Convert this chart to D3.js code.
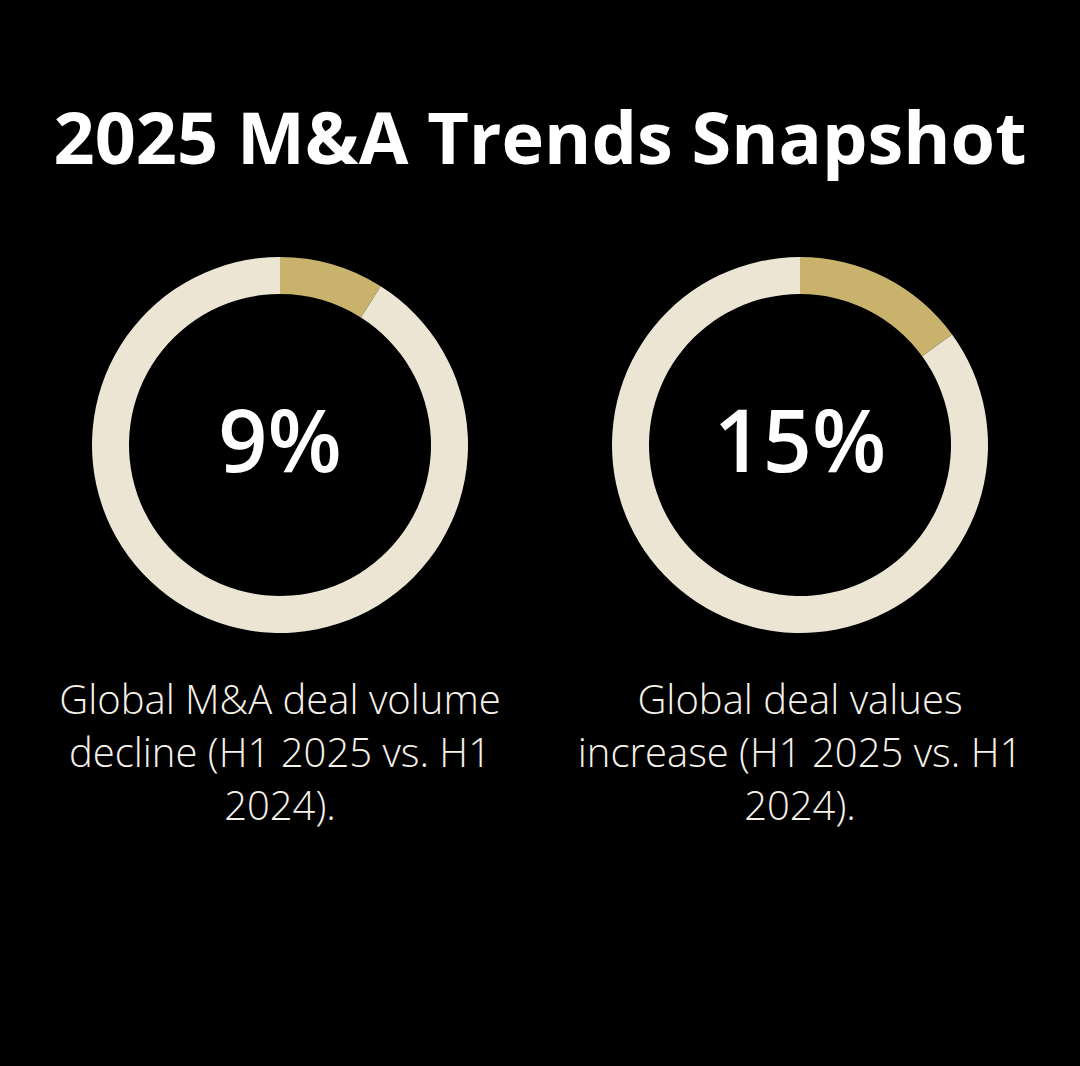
<!DOCTYPE html>
<html><head><meta charset="utf-8">
<script src="https://cdn.jsdelivr.net/npm/d3@7"></script>
<style>html,body{margin:0;padding:0;background:#000;}svg{display:block;}</style>
</head><body>
<script>
const title = "2025 M&A Trends Snapshot";
const metrics = ["Global M&A deal volume decline (H1 2025 vs. H1 2024).", "Global deal values increase (H1 2025 vs. H1 2024)."];
const values = [9, 15];
const labels = ["9%", "15%"];

const W = 1080, H = 1066;
const svg = d3.select("body").append("svg").attr("width", W).attr("height", H);
svg.append("rect").attr("width", W).attr("height", H).attr("fill", "#000");

svg.append("text").attr("x", 540).attr("y", 164).attr("text-anchor", "middle")
  .attr("font-family", "'Open Sans', sans-serif").attr("font-weight", 700)
  .attr("font-size", 72).attr("fill", "#fff").text(title);

const cx = d3.scalePoint().domain(d3.range(values.length)).range([280, 800]);
const pie = d3.pie().sort(null).value(d => d);
const arc = d3.arc().innerRadius(151).outerRadius(188);
const colors = ["#c8b26c", "#ede5d3"];

values.forEach((v, i) => {
  const g = svg.append("g").attr("transform", `translate(${cx(i)},445)`);
  g.selectAll("path").data(pie([v, 100 - v])).join("path")
    .attr("d", arc).attr("fill", (d, j) => colors[j]);
  g.append("text").attr("y", 27).attr("text-anchor", "middle")
    .attr("font-family", "'Open Sans', sans-serif").attr("font-weight", 600)
    .attr("font-size", 86).attr("fill", "#fff").text(labels[i]);

  const t = svg.append("text").attr("text-anchor", "middle")
    .attr("font-family", "'Open Sans', sans-serif").attr("font-weight", 300)
    .attr("font-size", 40).attr("fill", "#f6f2ea");
  const words = metrics[i].split(" ");
  let lines = [], cur = [];
  const probe = t.append("tspan");
  words.forEach(w => {
    const test = cur.concat([w]).join(" ");
    probe.text(test);
    if (probe.node().getComputedTextLength() > 465 && cur.length) { lines.push(cur.join(" ")); cur = [w]; }
    else cur.push(w);
  });
  lines.push(cur.join(" "));
  probe.remove();
  lines.forEach((l, k) => t.append("tspan").attr("x", cx(i)).attr("y", 714 + k * 53).text(l));
});
</script>
</body></html>
